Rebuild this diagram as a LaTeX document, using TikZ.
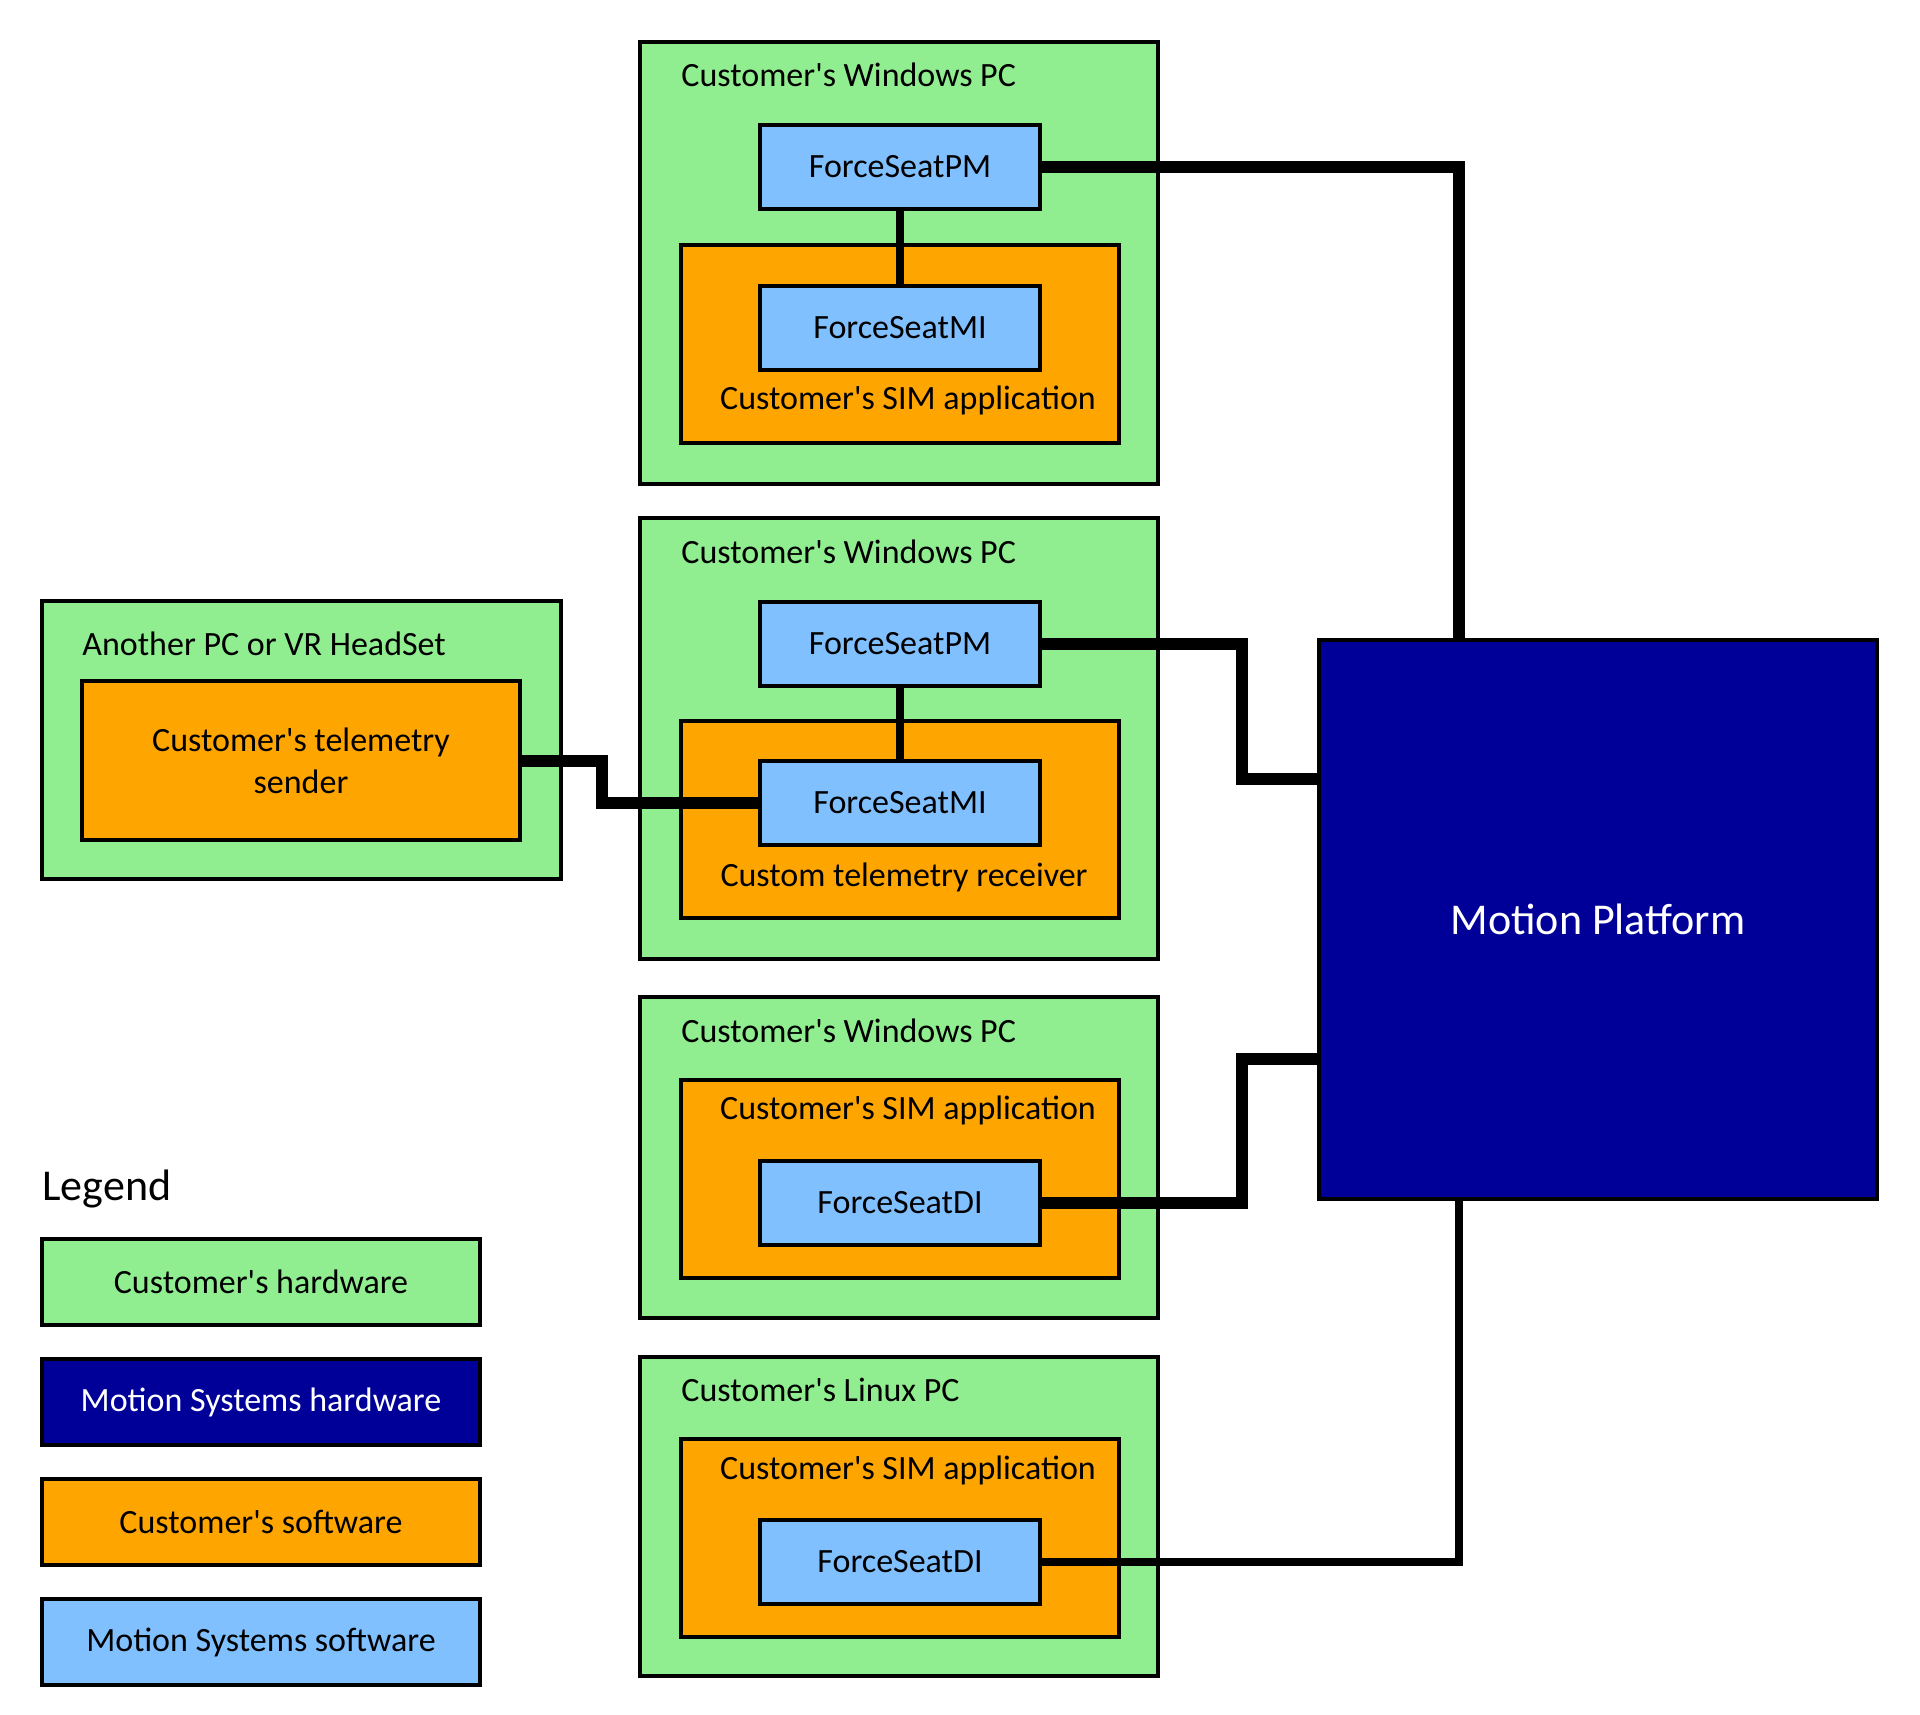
\documentclass[tikz,border=0pt]{standalone}
\usepackage{fontspec}
\setmainfont{Carlito}[Ligatures=TeXOff]
\usetikzlibrary{calc}

\definecolor{hwgreen}{HTML}{90EE90}
\definecolor{sworange}{HTML}{FFA500}
\definecolor{swblue}{HTML}{80C0FF}
\definecolor{mpnavy}{HTML}{000099}

\tikzset{
  box/.style={draw=black, line width=2pt, inner sep=0pt, font=\fontsize{17}{21}\selectfont},
  hwbox/.style={box, fill=hwgreen, minimum width=259pt},
  appbox/.style={box, fill=sworange, minimum width=219pt},
  fsbox/.style={box, fill=swblue, minimum width=140pt, minimum height=42pt},
  keybox/.style={box, minimum width=219pt, minimum height=43pt},
  lbl/.style={inner sep=0pt, font=\fontsize{17}{21}\selectfont},
  link/.style={line width=6pt},
  thinlink/.style={line width=3.75pt}
}

\begin{document}
\begin{tikzpicture}[x=0.5pt, y=-0.5pt, line join=miter]
  \useasboundingbox (0,0) rectangle (1920,1714);

  % First Windows PC: SIM application with ForceSeatMI.
  \node[hwbox, minimum height=221pt] (pc1) at (899,263) {};
  \node[lbl, anchor=west] (pc1t) at (681,75) {Customer's Windows PC};
  \node[appbox, minimum height=99pt] (app1) at (900,344) {};
  \node[lbl] (app1t) at (908,400) {Customer's SIM application};
  \node[fsbox] (pm1) at (900,167) {ForceSeatPM};
  \node[fsbox] (mi1) at (900,327.5) {ForceSeatMI};

  % Second Windows PC: telemetry receiver.
  \node[hwbox, minimum height=220.5pt] (pc2) at (899,738.5) {};
  \node[lbl, anchor=west] (pc2t) at (681,552) {Customer's Windows PC};
  \node[appbox, minimum height=98.5pt] (app2) at (900,819.5) {};
  \node[lbl] (app2t) at (904,877) {Custom telemetry receiver};
  \node[fsbox] (pm2) at (900,643.5) {ForceSeatPM};
  \node[fsbox] (mi2) at (900,802.5) {ForceSeatMI};

  % Telemetry source.
  \node[hwbox, minimum width=259.5pt, minimum height=139pt] (vr) at (301.5,740) {};
  \node[lbl, anchor=west] (vrt) at (82,644) {Another PC or VR HeadSet};
  \node[appbox, minimum height=79.5pt, align=center] (tx) at (301,760.5)
    {Customer's telemetry\\sender};

  % Third Windows PC: ForceSeatDI.
  \node[hwbox, minimum height=160.5pt] (pc3) at (899,1157.5) {};
  \node[lbl, anchor=west] (pc3t) at (681,1031) {Customer's Windows PC};
  \node[appbox, minimum height=99pt] (app3) at (900,1179) {};
  \node[lbl] (app3t) at (908,1110) {Customer's SIM application};
  \node[fsbox] (di3) at (900,1203) {ForceSeatDI};

  % Linux PC: ForceSeatDI.
  \node[hwbox, minimum height=159.5pt] (pc4) at (899,1516.5) {};
  \node[lbl, anchor=west] (pc4t) at (681,1390) {Customer's Linux PC};
  \node[appbox, minimum height=99pt] (app4) at (900,1538) {};
  \node[lbl] (app4t) at (908,1470) {Customer's SIM application};
  \node[fsbox] (di4) at (900,1562) {ForceSeatDI};

  % Platform.
  \node[box, fill=mpnavy, text=white, minimum width=279pt, minimum height=279.5pt,
    font=\fontsize{22}{26}\selectfont] (mp) at (1598,919.5) {Motion Platform};

  % Connectors.
  \draw[thinlink] (pm1.south) -- (mi1.north);
  \draw[thinlink] (pm2.south) -- (mi2.north);
  \draw[link] (tx.east) -- ++(80,0) |- (mi2.west);
  \draw[link] (pm1.east) -| ($(mp.north west)+(142,0)$);
  \draw[link] (pm2.east) -- ++(200,0) |- ($(mp.west)+(0,-140.5)$);
  \draw[link] (di3.east) -- ++(200,0) |- ($(mp.west)+(0,139.5)$);
  \draw[thinlink] (di4.east) -| ($(mp.south west)+(142,0)$);

  % Legend.
  \node[inner sep=0pt, anchor=west, font=\fontsize{22}{26}\selectfont] (key) at (42,1189) {Legend};
  \node[keybox, fill=hwgreen] (key1) at (261,1282) {Customer's hardware};
  \node[keybox, fill=mpnavy, text=white] (key2) at (261,1402) {Motion Systems hardware};
  \node[keybox, fill=sworange] (key3) at (261,1522) {Customer's software};
  \node[keybox, fill=swblue] (key4) at (261,1642) {Motion Systems software};
\end{tikzpicture}
\end{document}
